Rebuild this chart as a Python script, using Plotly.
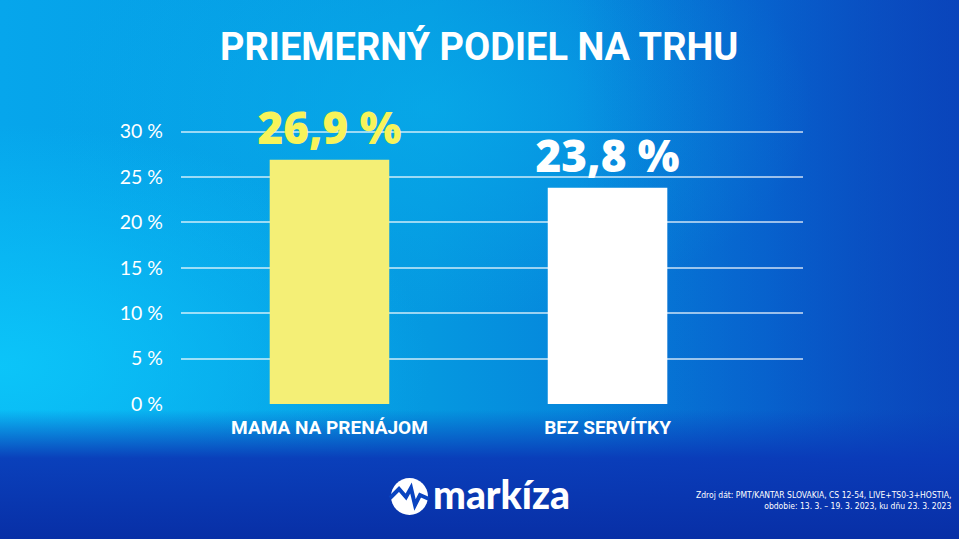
import base64
import plotly.graph_objects as go

# data
categories = ["MAMA NA PRENÁJOM", "BEZ SERVÍTKY"]
share = [26.9, 23.8]
share_labels = ["26,9 %", "23,8 %"]
bar_colors = ["#f4ef76", "#ffffff"]
label_colors = ["#f7f35a", "#ffffff"]
tick_vals = [0, 5, 10, 15, 20, 25, 30]
tick_text = ["0 %", "5 %", "10 %", "15 %", "20 %", "25 %", "30 %"]

W, H = 959, 539
L, R, T, B = 181, 803, 127, 404   # plot area in pixels
pw, ph = R - L, B - T


def px(x):
    return (x - L) / pw


def py(y):
    return (B - y) / ph


# background gradient as svg
svg = f"""<svg xmlns="http://www.w3.org/2000/svg" width="{W}" height="{H}" viewBox="0 0 {W} {H}">
<defs>
<linearGradient id="h" x1="0" y1="0" x2="1" y2="0">
<stop offset="0" stop-color="#06a6ec"/><stop offset="0.45" stop-color="#0598e0"/>
<stop offset="0.8" stop-color="#0670d6"/><stop offset="1" stop-color="#0a4cc0"/></linearGradient>
<radialGradient id="g" cx="0" cy="0.68" r="0.45">
<stop offset="0" stop-color="#0cc8fa" stop-opacity="0.9"/><stop offset="1" stop-color="#0cc8fa" stop-opacity="0"/></radialGradient>
<radialGradient id="c" cx="0.45" cy="0.2" r="0.4">
<stop offset="0" stop-color="#08b0ec" stop-opacity="0.6"/><stop offset="1" stop-color="#08b0ec" stop-opacity="0"/></radialGradient>
<linearGradient id="v" x1="0" y1="0" x2="0" y2="1">
<stop offset="0.76" stop-color="#0a3cb8" stop-opacity="0"/><stop offset="0.85" stop-color="#0a3ab8" stop-opacity="0.95"/>
<stop offset="1" stop-color="#082fa6" stop-opacity="1"/></linearGradient>
<linearGradient id="t" x1="0" y1="0" x2="1" y2="0">
<stop offset="0.6" stop-color="#0a40b8" stop-opacity="0"/><stop offset="1" stop-color="#0a40b8" stop-opacity="0.6"/></linearGradient>
</defs>
<rect width="{W}" height="{H}" fill="url(#h)"/>
<rect width="{W}" height="{H}" fill="url(#c)"/>
<rect width="{W}" height="{H}" fill="url(#g)"/>
<rect width="{W}" height="{H}" fill="url(#t)"/>
<rect width="{W}" height="{H}" fill="url(#v)"/>
</svg>"""
bg = "data:image/svg+xml;base64," + base64.b64encode(svg.encode()).decode()

fig = go.Figure(go.Bar(
    x=categories, y=share,
    marker=dict(color=bar_colors, line=dict(width=0)),
    width=0.43,
    text=share_labels, textposition="outside", cliponaxis=False, constraintext="none",
    textfont=dict(family="Open Sans, Lato, sans-serif", size=44, color=label_colors, weight=800),
))

fig.add_layout_image(dict(
    source=bg, xref="paper", yref="paper", x=px(0), y=py(0),
    sizex=W / pw, sizey=H / ph, sizing="stretch", layer="below",
    xanchor="left", yanchor="top",
))

# title
fig.add_annotation(text="<b>PRIEMERNÝ PODIEL NA TRHU</b>", xref="paper", yref="paper",
                   x=px(479), y=py(47), xanchor="center", yanchor="middle", showarrow=False,
                   font=dict(family="Roboto, sans-serif", size=38, color="white"))

# logo
fig.add_shape(type="circle", xref="paper", yref="paper",
              x0=px(391), x1=px(428), y0=py(515), y1=py(478),
              fillcolor="white", line=dict(width=0))
wave = [(390, 498), (399, 489), (406, 497), (411, 488), (415, 505), (420, 495), (429, 499)]
path = "M " + " L ".join(f"{px(a)},{py(b)}" for a, b in wave)
fig.add_shape(type="path", xref="paper", yref="paper", path=path,
              line=dict(color="#0a44c0", width=4))
fig.add_annotation(text="markíza", xref="paper", yref="paper",
                   x=px(431), y=py(494), xanchor="left", yanchor="middle", showarrow=False,
                   font=dict(family="Lato, sans-serif", size=39, color="white", weight=900))

# source
fig.add_annotation(text="Zdroj dát: PMT/KANTAR SLOVAKIA, CS 12-54, LIVE+TS0-3+HOSTIA,<br>"
                        "obdobie: 13. 3. – 19. 3. 2023, ku dňu 23. 3. 2023",
                   xref="paper", yref="paper", x=px(953), y=py(500), xanchor="right",
                   yanchor="middle", align="right", showarrow=False,
                   font=dict(family="DejaVu Sans Condensed, Liberation Sans Narrow, Roboto, sans-serif",
                             size=8.5, color="white"))

fig.update_layout(
    width=W, height=H,
    margin=dict(l=L, r=W - R, t=T, b=H - B, pad=0),
    paper_bgcolor="rgba(0,0,0,0)", plot_bgcolor="rgba(0,0,0,0)",
    showlegend=False,
    xaxis=dict(range=[-0.534, 1.703], showgrid=False, zeroline=False, showline=False,
               ticks="", ticklabelstandoff=10,
               tickfont=dict(family="Roboto, sans-serif", size=19,
                             color="white", weight="bold")),
    yaxis=dict(range=[0, 30.5], tickvals=tick_vals, ticktext=tick_text,
               showgrid=True, gridcolor="rgba(255,255,255,0.6)", gridwidth=1.5,
               zeroline=False, showline=False, ticks="", ticklabelstandoff=17,
               tickfont=dict(family="Lato, sans-serif", size=19.5, color="white")),
)

fig.write_html("out.html", config={"displayModeBar": False},
               post_script="document.body.style.margin='0';")
